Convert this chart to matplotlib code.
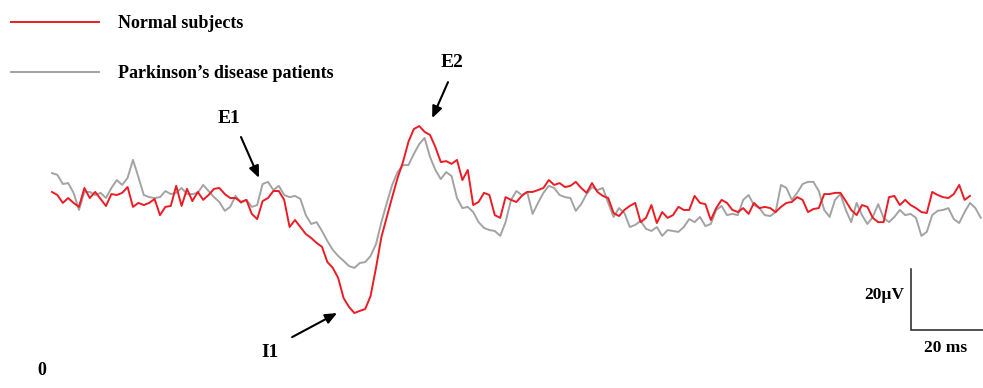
import numpy as np
import matplotlib
matplotlib.use("Agg")
import matplotlib.pyplot as plt

plt.rcParams["font.family"] = ["Liberation Serif", "DejaVu Serif"]
plt.rcParams["font.weight"] = "bold"

DT = 1.5  # ms between samples

# grand-average evoked responses (µV)
normal_uv = [
    1.0, 0.0, -2.6, -1.0, -2.6, -3.9, 2.3, -1.0, 1.0, -1.3,
    -3.6, 0.3, 0.0, 0.7, 2.6, -3.9, -2.6, -3.3, -2.6, -1.3,
    -6.6, -3.9, -3.6, 3.0, -3.6, 2.0, -2.0, 1.0, -1.6, 0.0,
    2.0, 2.3, 0.3, -1.0, -1.0, -2.3, -1.6, -6.2, -7.9, -2.0,
    -1.0, 1.3, 1.3, -1.6, -10.5, -8.2, -10.5, -12.8, -14.1, -15.7,
    -17.0, -22.0, -23.9, -27.2, -33.8, -36.7, -38.7, -38.0, -37.4, -33.1,
    -23.9, -13.8, -7.2, -0.7, 5.6, 10.8, 17.4, 21.6, 22.6, 20.7,
    19.7, 15.7, 10.8, 11.1, 10.2, 11.5, 4.9, 8.2, -3.3, -2.3,
    0.7, 0.0, -6.6, -7.5, -0.7, -1.6, -2.3, -0.3, 1.0, 1.0,
    1.6, 2.3, 4.9, 3.3, 3.9, 2.6, 3.0, 4.3, 2.3, 0.7,
    3.9, 1.0, -0.3, -1.0, -5.9, -6.9, -4.9, -3.6, -2.6, -8.9,
    -7.5, -3.3, -9.2, -5.6, -7.5, -6.6, -3.9, -4.9, -4.9, -0.3,
    -2.6, -3.0, -8.2, -4.3, -1.6, -2.6, -4.9, -5.6, -4.3, -6.2,
    -2.6, -4.3, -3.9, -4.3, -5.6, -3.9, -2.6, -2.3, -0.7, -1.6,
    -5.6, -4.6, -4.3, 0.3, 0.3, 0.7, 0.7, -2.0, -4.9, -6.6,
    -3.3, -3.9, -7.5, -8.9, -8.9, -0.7, -0.3, -3.3, -1.6, -3.3,
    -4.3, -5.6, -5.9, 1.0, 0.0, -0.7, -1.0, 0.3, 3.3, -1.6,
    -0.3,
]
parkinson_uv = [
    7.2, 6.6, 3.6, 3.9, 0.7, -4.9, 1.0, 1.0, 0.0, 0.7,
    -1.0, 2.3, 4.9, 3.3, 5.6, 11.5, 5.9, 0.0, -0.7, -1.0,
    -0.7, 1.3, 0.3, 0.7, 2.3, 0.3, 0.3, 0.7, 3.3, 1.3,
    -0.7, -2.3, -5.2, -3.9, -0.3, -2.6, -1.6, -3.9, -3.3, 3.6,
    4.3, 1.6, 3.0, 0.0, -0.7, -0.3, -1.3, -6.6, -9.5, -8.9,
    -11.8, -15.1, -18.0, -20.0, -21.6, -23.3, -23.9, -22.3, -22.0, -20.0,
    -16.1, -8.9, -2.6, 3.3, 7.5, 9.8, 9.8, 13.4, 16.7, 18.7,
    12.5, 8.2, 5.2, 7.5, 6.2, -1.0, -4.3, -3.9, -5.6, -8.9,
    -10.8, -11.5, -11.8, -13.4, -8.9, -1.6, 1.3, 0.0, 1.0, -6.2,
    -2.6, 0.7, 3.0, 2.3, 0.0, -0.7, -1.0, -5.2, -3.0, 0.3,
    2.6, 1.6, 2.3, -2.6, -7.2, -4.3, -5.9, -10.5, -9.8, -8.5,
    -11.1, -11.8, -10.5, -13.4, -11.5, -11.8, -12.1, -10.5, -7.9, -8.9,
    -7.2, -10.2, -9.5, -4.9, -3.6, -6.6, -6.2, -6.6, -1.6, 0.0,
    -3.3, -4.3, -6.6, -6.9, -5.6, 3.3, 2.3, -1.6, 0.7, 3.6,
    4.3, 4.3, 1.3, -4.9, -7.2, -1.6, 0.3, -4.9, -8.9, -2.6,
    -6.6, -9.5, -7.2, -3.0, -7.5, -8.9, -7.2, -4.9, -6.6, -6.2,
    -7.5, -13.4, -12.1, -6.6, -5.2, -4.9, -4.3, -7.9, -9.2, -5.6,
    -2.6, -4.3, -7.5,
]

series_labels = ["Normal subjects", "Parkinson\u2019s disease patients"]
series_colors = ["#ec1c24", "#a3a3a3"]

t_normal = np.arange(len(normal_uv)) * DT
t_park = np.arange(len(parkinson_uv)) * DT

fig = plt.figure(figsize=(9.83, 3.88), dpi=100)
ax = fig.add_axes([0, 0, 1, 1])
ax.set_xlim(-14.44, 258.61)
ax.set_ylim(-63.28, 63.93)
ax.axis("off")

ax.plot(t_park, parkinson_uv, color=series_colors[1], lw=1.4, label=series_labels[1], zorder=2)
ax.plot(t_normal, normal_uv, color=series_colors[0], lw=1.4, label=series_labels[0], zorder=3)

# legend: normal first
h, l = ax.get_legend_handles_labels()
ax.legend(h[::-1], l[::-1], loc="upper left", bbox_to_anchor=(11 / 983, 1 - 15 / 388),
          frameon=False, fontsize=13, handlelength=4.9, handletextpad=1.05,
          labelspacing=1.85, borderpad=0, borderaxespad=0)

# component labels
arrow = dict(arrowstyle="-|>,head_length=0.7,head_width=0.3", color="black", lw=1.5,
             shrinkA=0, shrinkB=0)
ax.annotate("", xy=(57.5, 5.6), xytext=(52.5, 19.0), arrowprops=arrow)
ax.text(49.2, 25.2, "E1", fontsize=14, ha="center", va="center")
ax.annotate("", xy=(105.6, 25.2), xytext=(110.0, 37.0), arrowprops=arrow)
ax.text(111.1, 43.6, "E2", fontsize=14, ha="center", va="center")
ax.annotate("", xy=(79.2, -38.7), xytext=(66.7, -46.6), arrowprops=arrow)
ax.text(60.6, -51.5, "I1", fontsize=14, ha="center", va="center")

# scale bar 20 ms x 20 µV
bar_t, bar_v = 238.6, -44.3
ax.plot([bar_t, bar_t, bar_t + 20], [bar_v + 20, bar_v, bar_v], color="#222222", lw=1.1,
        solid_joinstyle="miter")
ax.text(bar_t - 2.0, bar_v + 11.5, "20\u00b5V", fontsize=12.5, ha="right", va="center")
ax.text(bar_t + 9.5, bar_v - 5.8, "20 ms", fontsize=12.5, ha="center", va="center")
ax.text(-2.8, -57.4, "0", fontsize=13, ha="center", va="center")

fig.savefig("out.png", dpi=100)
